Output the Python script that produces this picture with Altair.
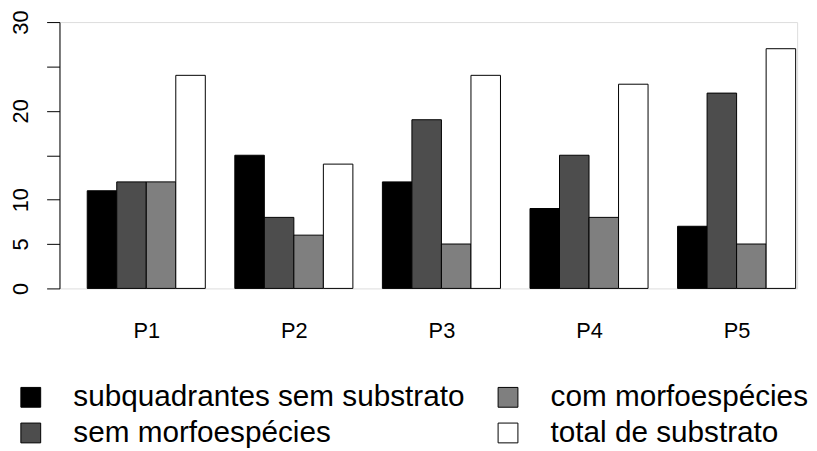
import json
import altair as alt
import pandas as pd

groups = ["P1", "P2", "P3", "P4", "P5"]
series = ["subquadrantes sem substrato", "sem morfoespécies",
          "com morfoespécies", "total de substrato"]
subq = [11, 15, 12, 9, 7]
sem = [12, 8, 19, 15, 22]
com = [12, 6, 5, 8, 5]
total = [24, 14, 24, 23, 27]
colors = ["#000000", "#4D4D4D", "#7F7F7F", "#FFFFFF"]
y_ticks = [0, 5, 10, 15, 20, 25, 30]
y_hidden = [15, 25]

rows = []
for gi, g in enumerate(groups):
    for si, (s, vals) in enumerate(zip(series, [subq, sem, com, total])):
        x0 = gi * 5 + 1 + si
        rows.append(dict(group=g, series=s, x0=x0, x1=x0 + 1, base=0, value=vals[gi]))
df = pd.DataFrame(rows)

centers = [gi * 5 + 3 for gi in range(len(groups))]

FONT = "Liberation Sans"

x_label_expr = json.dumps(groups) + "[round((datum.value - 3) / 5)]"
y_label_expr = "indexof(" + json.dumps(y_hidden) + ", datum.value) >= 0 ? '' : datum.label"

chart = alt.Chart(df).mark_rect(stroke="black", strokeWidth=1).encode(
    x=alt.X("x0:Q",
            scale=alt.Scale(domain=[0.06, 25.05], nice=False, zero=False),
            axis=alt.Axis(values=centers, labelExpr=x_label_expr, domain=False,
                          ticks=False, tickSize=0, grid=False, title=None,
                          labelFont=FONT, labelFontSize=22, labelColor="black",
                          labelBaseline="alphabetic", labelPadding=50,
                          labelFlush=False, labelOverlap=False)),
    x2="x1:Q",
    y=alt.Y("value:Q",
            scale=alt.Scale(domain=[0, 30], nice=False),
            axis=alt.Axis(values=y_ticks, labelExpr=y_label_expr, grid=False,
                          title=None, tickSize=13, tickColor="black",
                          domainColor="black", tickWidth=1, domainWidth=1,
                          labelAngle=270, labelAlign="center",
                          labelBaseline="alphabetic", labelPadding=19,
                          labelFont=FONT, labelFontSize=22, labelColor="black",
                          labelOverlap=False, labelFlush=False)),
    y2="base:Q",
    fill=alt.Fill("series:N",
                  scale=alt.Scale(domain=series, range=colors),
                  legend=alt.Legend(orient="none", legendX=-44, legendY=364,
                                    columns=2, columnPadding=28, rowPadding=6,
                                    symbolType="square", symbolSize=400,
                                    symbolStrokeColor="black", symbolStrokeWidth=1,
                                    symbolOpacity=1,
                                    labelFont=FONT, labelFontSize=30,
                                    labelColor="black", labelOffset=28,
                                    labelLimit=0, title=None, padding=0)),
).properties(
    width=745, height=269,
    autosize=alt.AutoSizeParams(type="none"),
    padding={"left": 52, "top": 12, "right": 12, "bottom": 162},
).configure_view(stroke=None).configure(background="white")

chart.save("out.html", embed_options={"renderer": "svg", "actions": False})
